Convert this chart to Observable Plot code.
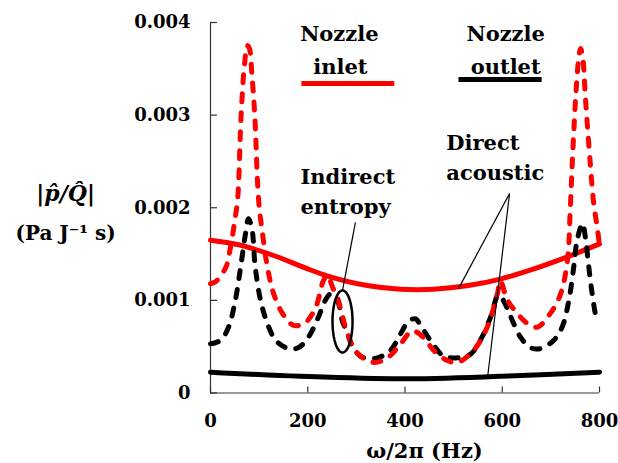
<!DOCTYPE html>
<html><head><meta charset="utf-8">
<script src="https://cdn.jsdelivr.net/npm/d3@7"></script>
<script src="https://cdn.jsdelivr.net/npm/@observablehq/plot@0.6"></script>
<style>html,body{margin:0;padding:0;background:#fff;}</style>
</head><body><div id="chart"></div>
<script>
// ---- data ----
// Nozzle inlet, total (red dashed)
const inletTotalHz  = [0,10,31,41,51,56,63,70,76,80,85,91,99,107,117,130,148,171,195,216,232,240,252,261,282,302,335,364,391,415,438,459,487,508,541,569,590,596,611,631,652,672,699,720,734,740,744,751,757,761,766,771,781,788,795,800];
const inletTotalVal = [0.00118,0.00120,0.00135,0.00157,0.00190,0.00210,0.00300,0.00355,0.00375,0.00372,0.00345,0.00300,0.00208,0.00172,0.00136,0.00107,0.00086,0.00073,0.00076,0.00092,0.00121,0.00127,0.00113,0.00103,0.00064,0.00043,0.00033,0.00038,0.00053,0.00067,0.00060,0.00046,0.00035,0.00033,0.00046,0.00071,0.00107,0.00121,0.00100,0.00086,0.00075,0.00071,0.00086,0.00107,0.00143,0.00200,0.00248,0.00319,0.00360,0.00372,0.00360,0.00319,0.00248,0.00205,0.00180,0.00160];
// Nozzle outlet, total (black dashed)
const outletTotalHz  = [0,21,37,51,62,72,78,85,92,103,117,134,160,181,201,222,236,247,261,271,282,294,315,343,370,391,408,422,432,452,479,508,535,555,576,590,594,610,621,638,658,679,706,723,737,747,754,765,771,778,785,795,800];
const outletTotalVal = [0.00053,0.00057,0.00071,0.00100,0.00136,0.00172,0.00188,0.00178,0.00136,0.00100,0.00075,0.00057,0.00048,0.00049,0.00060,0.00082,0.00100,0.00107,0.00100,0.00078,0.00064,0.00048,0.00038,0.00038,0.00046,0.00064,0.00078,0.00080,0.00073,0.00057,0.00040,0.00038,0.00042,0.00057,0.00082,0.00105,0.00106,0.00092,0.00078,0.00060,0.00049,0.00048,0.00057,0.00071,0.00100,0.00136,0.00165,0.00183,0.00168,0.00136,0.00107,0.00080,0.00078];
// Nozzle inlet, direct acoustic (red solid)
const inletDirectHz  = [0,58,127,195,243,322,391,459,530,596,665,734,800];
const inletDirectVal = [0.00165,0.00160,0.00149,0.00135,0.00126,0.00116,0.00112,0.00112,0.00116,0.00123,0.00134,0.00147,0.00161];
// Nozzle outlet, direct acoustic (black solid)
const outletDirectHz  = [0,185,391,596,800];
const outletDirectVal = [0.000225,0.00018,0.000153,0.00018,0.000225];

const xTicks = [0,200,400,600,800];
const yTicks = [0,0.001,0.002,0.003,0.004];
const yTickLabels = ["0","0.001","0.002","0.003","0.004"];

// annotation labels (data coordinates)
const centeredLabels = [
  {text:"Nozzle", x:265, y:0.003878},
  {text:"inlet", x:267, y:0.003522},
  {text:"Nozzle", x:607, y:0.003878},
  {text:"outlet", x:607, y:0.003522}
];
const leftLabels = [
  {text:"Direct", x:485, y:0.002701},
  {text:"acoustic", x:485, y:0.002367},
  {text:"Indirect", x:185, y:0.002334},
  {text:"entropy", x:185, y:0.002010}
];
const legendKeys = [
  {x1:187, x2:378, y:0.003341, color:"#ff0000"},
  {x1:510, x2:681, y:0.003385, color:"#000000"}
];
const leaders = [
  {x1:615, y1:0.002154, x2:510, y2:0.001127},
  {x1:615, y1:0.002154, x2:570, y2:0.000178},
  {x1:298, y1:0.001841, x2:271.5, y2:0.001107}
];
const ellipseCenter = {x:271.5, y:0.000772, rx:20.6, ry:0.000335};

const zip = (xs, ys) => xs.map((x, i) => ({x, y: ys[i]}));
const inletTotal = zip(inletTotalHz, inletTotalVal);
const outletTotal = zip(outletTotalHz, outletTotalVal);
const inletDirect = zip(inletDirectHz, inletDirectVal);
const outletDirect = zip(outletDirectHz, outletDirectVal);
const ellipsePts = d3.range(0, 73).map(i => {
  const t = i / 72 * 2 * Math.PI;
  return {x: ellipseCenter.x + ellipseCenter.rx * Math.cos(t), y: ellipseCenter.y + ellipseCenter.ry * Math.sin(t)};
});

const FONT = "DejaVu Serif";
const dash = {strokeDasharray: "8,11", strokeLinecap: "round", strokeWidth: 5, curve: "catmull-rom"};
const txt = {fontSize: 21, fontWeight: "bold", fontFamily: FONT, fill: "#000"};

const chart = Plot.plot({
  width: 618, height: 463,
  marginLeft: 210, marginRight: 19, marginTop: 22, marginBottom: 70.5,
  style: {background: "#fff", fontFamily: FONT, color: "#000", overflow: "visible"},
  x: {domain: [0, 800]},
  y: {domain: [0, 0.004]},
  marks: [
    Plot.axisX(xTicks, {tickSize: 0, tickPadding: 21, fontSize: 18, fontWeight: "bold", fontFamily: FONT, label: null}),
    Plot.axisY(yTicks, {tickSize: 0, tickPadding: 20, fontSize: 18, fontWeight: "bold", fontFamily: FONT, label: null,
      tickFormat: (d) => yTickLabels[yTicks.indexOf(d)]}),
    Plot.ruleX(xTicks, {y1: 0, y2: 0.000065, stroke: "#333", strokeWidth: 1.2}),
    Plot.ruleY(yTicks, {x1: 0, x2: 14.4, stroke: "#333", strokeWidth: 1.2}),
    Plot.ruleX([0], {y1: 0, y2: 0.004, stroke: "#333", strokeWidth: 1.2}),
    Plot.ruleY([0], {x1: 0, x2: 800, stroke: "#333", strokeWidth: 1.2}),
    Plot.line(outletDirect, {x: "x", y: "y", stroke: "#000", strokeWidth: 5, curve: "catmull-rom"}),
    Plot.line(inletDirect, {x: "x", y: "y", stroke: "#ff0000", strokeWidth: 5, curve: "catmull-rom"}),
    Plot.line(outletTotal, {x: "x", y: "y", stroke: "#000", ...dash}),
    Plot.line(inletTotal, {x: "x", y: "y", stroke: "#ff0000", ...dash}),
    Plot.link(leaders, {x1: "x1", y1: "y1", x2: "x2", y2: "y2", stroke: "#000", strokeWidth: 1.2}),
    Plot.line(ellipsePts, {x: "x", y: "y", stroke: "#000", strokeWidth: 2.5, curve: "linear"}),
    Plot.link(legendKeys, {x1: "x1", x2: "x2", y1: "y", y2: "y", stroke: "color", strokeWidth: 5}),
    Plot.text(centeredLabels, {x: "x", y: "y", text: "text", textAnchor: "middle", ...txt}),
    Plot.text(leftLabels, {x: "x", y: "y", text: "text", textAnchor: "start", ...txt}),
    Plot.text(["ω/2π (Hz)"], {x: 440, y: -0.000630, ...txt}),
    Plot.text(["|p̂/Q̂|"], {x: -298, y: 0.002154, ...txt, fontSize: 22, fontStyle: "italic"}),
    Plot.text(["(Pa J⁻¹ s)"], {x: -298, y: 0.001722, ...txt, fontSize: 20})
  ]
});
document.getElementById("chart").appendChild(chart);
</script></body></html>
